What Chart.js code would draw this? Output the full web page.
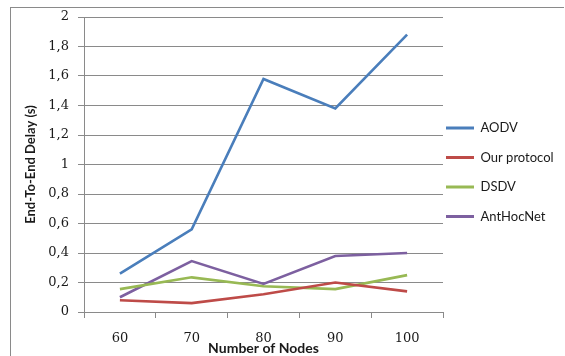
<!DOCTYPE html>
<html>
<head>
<meta charset="utf-8">
<script src="https://cdn.jsdelivr.net/npm/chart.js@4.4.1/dist/chart.umd.min.js"></script>
<style>
  html, body { margin: 0; padding: 0; background: #fff; overflow: hidden; }
  #wrap { position: relative; width: 565px; height: 356px; }
  #frame { position: absolute; left: 10px; top: 7px; width: 553px; height: 400px;
           border-left: 1px solid #8a8a8a; border-top: 1px solid #8a8a8a; }
  canvas { position: absolute; left: 0; top: 0; }
</style>
</head>
<body>
<div id="wrap">
  <div id="frame"></div>
  <canvas id="chart" width="565" height="356"></canvas>
</div>
<script>
// Network size on the x axis
const nodes = ['60', '70', '80', '90', '100'];

// End-to-end delay in seconds for each protocol
const aodv        = [0.26, 0.56, 1.58, 1.38, 1.88];
const ourProtocol = [0.08, 0.06, 0.12, 0.20, 0.14];
const dsdv        = [0.155, 0.235, 0.175, 0.155, 0.25];
const antHocNet   = [0.10, 0.345, 0.19, 0.38, 0.40];

// Delay axis tick labels (decimal comma), one per 0.2 s step
const delayTickLabels = ['0', '0,2', '0,4', '0,6', '0,8', '1', '1,2', '1,4', '1,6', '1,8', '2'];

const AXIS_GREY = '#8a8a8a';
const TEXT = '#1a1a1a';

// Puts the legend column just right of the plot, starting at a fixed row;
// the right edge stays at the canvas edge so long labels are not clipped
const legendPlacement = {
  id: 'legendPlacement',
  afterLayout(chart) {
    const lg = chart.legend;
    const pad = lg.options.labels.padding;
    lg.left = chart.chartArea.right + 3 - pad;
    lg.right = chart.width;
    lg.width = lg.right - lg.left;
    const fontSize = lg.options.labels.font.size;
    const firstRowCentre = 128;
    lg.top = firstRowCentre - fontSize / 2 - pad;
    lg.height = lg.bottom - lg.top;
  }
};

const series = (label, data, color) => ({
  label, data,
  borderColor: color,
  backgroundColor: color,
  borderWidth: 2.6,
  pointRadius: 0,
  tension: 0,
  fill: false
});

new Chart(document.getElementById('chart'), {
  type: 'line',
  data: {
    labels: nodes,
    datasets: [
      series('AODV', aodv, '#4a7ebb'),
      series('Our protocol', ourProtocol, '#be4b48'),
      series('DSDV', dsdv, '#98b954'),
      series('AntHocNet', antHocNet, '#7d60a0')
    ]
  },
  plugins: [legendPlacement],
  options: {
    responsive: false,
    animation: false,
    devicePixelRatio: 1,
    layout: { padding: { top: 17, left: 0, right: 0, bottom: 0 } },
    plugins: {
      tooltip: { enabled: false },
      legend: {
        position: 'right',
        align: 'start',
        maxWidth: 122,
        labels: {
          boxWidth: 28,
          boxHeight: 3,
          padding: 16.5,
          color: TEXT,
          font: { family: 'Lato', size: 13 },
          generateLabels(chart) {
            return Chart.defaults.plugins.legend.labels.generateLabels(chart)
              .map(item => Object.assign(item, { lineWidth: 0 }));
          }
        }
      }
    },
    scales: {
      x: {
        type: 'category',
        offset: true,
        afterFit(scale) { scale.height = 44; },
        grid: {
          offset: true,
          drawOnChartArea: false,
          drawTicks: true,
          tickLength: 6,
          color: AXIS_GREY
        },
        border: { display: true, color: AXIS_GREY, width: 1 },
        ticks: {
          color: TEXT,
          padding: 13,
          maxRotation: 0,
          font: { family: 'DejaVu Serif', size: 13 }
        },
        title: {
          display: true,
          text: 'Number of Nodes',
          color: TEXT,
          font: { family: 'Lato', size: 14, weight: 'bold', lineHeight: 1 },
          padding: { top: 0, bottom: 1 }
        }
      },
      y: {
        min: 0,
        max: 2,
        afterFit(scale) { scale.width = 84; },
        grid: {
          color: AXIS_GREY,
          lineWidth: 1,
          drawTicks: true,
          tickLength: 6
        },
        border: { display: true, color: AXIS_GREY, width: 1 },
        ticks: {
          stepSize: 0.2,
          color: TEXT,
          padding: 9,
          font: { family: 'DejaVu Serif', size: 13 },
          callback: (value, index) => delayTickLabels[index]
        },
        title: {
          display: true,
          text: 'End-To-End Delay (s)',
          color: TEXT,
          font: { family: 'Lato', size: 13, weight: 'bold', lineHeight: 1 },
          padding: { top: 24.5, bottom: 0 }
        }
      }
    }
  }
});
</script>
</body>
</html>
